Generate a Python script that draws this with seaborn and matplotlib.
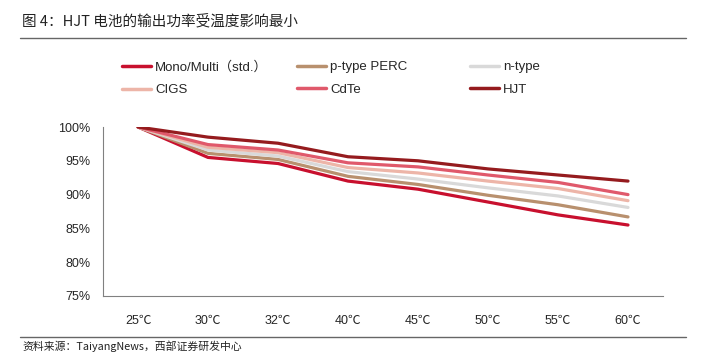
import pandas as pd
import matplotlib
matplotlib.use("Agg")
import matplotlib.pyplot as plt
import seaborn as sns
from matplotlib.lines import Line2D

# 数据
temps = ["25℃", "30℃", "32℃", "40℃", "45℃", "50℃", "55℃", "60℃"]
mono = [100, 95.5, 94.6, 92.0, 90.8, 88.9, 87.0, 85.5]
perc = [100, 96.1, 95.2, 92.7, 91.5, 89.9, 88.5, 86.7]
ntype = [100, 96.6, 95.7, 93.4, 92.3, 91.0, 89.8, 88.1]
cigs = [100, 97.0, 96.2, 94.0, 93.2, 92.0, 90.9, 89.1]
cdte = [100, 97.4, 96.6, 94.7, 94.1, 92.9, 91.8, 90.0]
hjt = [100, 98.5, 97.6, 95.6, 95.0, 93.8, 92.9, 92.0]

series_names = ["Mono/Multi（std.）", "p-type PERC", "n-type", "CIGS", "CdTe", "HJT"]
series_values = [mono, perc, ntype, cigs, cdte, hjt]
colors = ["#C8102E", "#B8906E", "#D9D9D9", "#EDB5A8", "#E0596B", "#951B1E"]

rows = []
for name, vals in zip(series_names, series_values):
    for i, v in enumerate(vals):
        rows.append({"temp": i, "value": v, "series": name})
df = pd.DataFrame(rows)

sns.set_style("white")
plt.rcParams["font.family"] = ["Liberation Sans", "Noto Sans CJK SC", "DejaVu Sans"]

fig = plt.figure(figsize=(7.07, 3.64), dpi=100)
ax = fig.add_axes([103 / 707, 1 - 296 / 364, 560 / 707, 169 / 364])

sns.lineplot(data=df, x="temp", y="value", hue="series", palette=colors,
             hue_order=series_names, linewidth=2.3, ax=ax, legend=False)

ax.set_xlim(-0.5, 7.5)
ax.set_ylim(75, 100)
ax.set_xticks(range(len(temps)))
ax.set_xticklabels(temps)
ax.set_xticks([i - 0.5 for i in range(len(temps) + 1)], minor=True)
ax.set_yticks([75, 80, 85, 90, 95, 100])
ax.set_yticklabels(["75%", "80%", "85%", "90%", "95%", "100%"])
ax.tick_params(axis="x", which="major", length=0, pad=14, labelsize=9)
ax.tick_params(axis="x", which="minor", length=4, direction="in", color="#808080", width=0.8)
ax.tick_params(axis="y", length=4, direction="in", color="#808080", width=0.8, labelsize=9, pad=9)
ax.set_xlabel("")
ax.set_ylabel("")
for s in ["top", "right"]:
    ax.spines[s].set_visible(False)
for s in ["left", "bottom"]:
    ax.spines[s].set_color("#808080")
    ax.spines[s].set_linewidth(0.8)

# 图例：三列，手动放置
legend_x = [122, 297, 470]
for col in range(3):
    idx = [col, col + 3]
    handles = [Line2D([], [], color=colors[i], linewidth=2.5) for i in idx]
    labels = [series_names[i] for i in idx]
    fig.legend(handles, labels, loc="upper left", frameon=False,
               bbox_to_anchor=(legend_x[col] / 707, 1 - 61 / 364),
               bbox_transform=fig.transFigure, borderpad=0, borderaxespad=0,
               handlelength=2.2, handletextpad=0.3, labelspacing=0.8,
               fontsize=9.5)

# 标题、横线和来源
fig.text(22 / 707, 1 - 21 / 364, "图 4：HJT 电池的输出功率受温度影响最小",
         fontsize=10.5, va="center", ha="left", color="#222222",
         family=["Noto Sans CJK SC", "DejaVu Sans"])
fig.add_artist(Line2D([20 / 707, 686 / 707], [1 - 38 / 364, 1 - 38 / 364],
                      transform=fig.transFigure, color="#666666", linewidth=1))
fig.add_artist(Line2D([20 / 707, 686 / 707], [1 - 337 / 364, 1 - 337 / 364],
                      transform=fig.transFigure, color="#666666", linewidth=1))
fig.text(22 / 707, 1 - 346 / 364, "资料来源：TaiyangNews，西部证券研发中心",
         fontsize=7.8, va="center", ha="left", color="#222222",
         family=["Noto Sans CJK SC", "DejaVu Sans"])

fig.savefig("out.png", dpi=100)
